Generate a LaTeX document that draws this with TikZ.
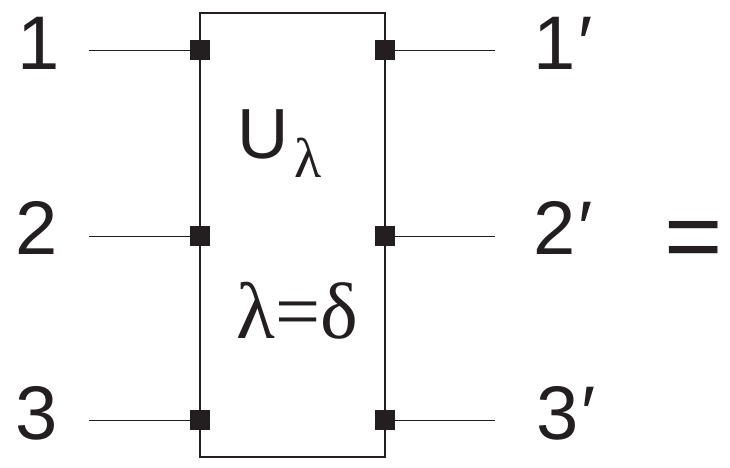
\documentclass[tikz,border=0pt]{standalone}
\usepackage{fontspec}
\setmainfont{Liberation Sans}
\newfontfamily\serifgr{Liberation Serif}
\definecolor{ink}{HTML}{231F20}
\begin{document}
\begin{tikzpicture}[x=1pt,y=-1pt,
  lab/.style={inner sep=0, anchor=base west, text=ink, font=\fontsize{76}{76}\selectfont},
  port/.style={fill=ink, draw=none, minimum size=20.5pt, inner sep=0},
  wire/.style={draw=ink, line width=1pt},
  frame/.style={draw=ink, line width=1.2pt, minimum width=185pt, minimum height=444pt, inner sep=0}]
\useasboundingbox (0,0) rectangle (730,467);
\node[frame] (box) at (292.5,235) {};
% ports
\node[port] (l1) at (200,50) {};
\node[port] (l2) at (200,236) {};
\node[port] (l3) at (200,420) {};
\node[port] (r1) at (385,50) {};
\node[port] (r2) at (385,236) {};
\node[port] (r3) at (385,420) {};
% wire ends
\coordinate (a1) at (89,50);
\coordinate (a2) at (89,236);
\coordinate (a3) at (89,420);
\coordinate (b1) at (495,50);
\coordinate (b2) at (495,236);
\coordinate (b3) at (495,420);
\draw[wire] (a1) -- (l1);
\draw[wire] (a2) -- (l2);
\draw[wire] (a3) -- (l3);
\draw[wire] (r1) -- (b1);
\draw[wire] (r2) -- (b2);
\draw[wire] (r3) -- (b3);
% labels
\node[lab] (t1) at (17,69) {1};
\node[lab] (t2) at (15,254) {2};
\node[lab] (t3) at (15,439) {3};
\node[lab] (u1) at (533,69) {1\kern3pt′};
\node[lab] (u2) at (533,254) {2\kern3pt′};
\node[lab] (u3) at (536,439) {3\kern3pt′};
\node[inner sep=0, anchor=base, text=ink, font=\fontsize{100}{100}\selectfont] (eq) at (694,270) {=};
\node[inner sep=0, anchor=base west, text=ink, font=\fontsize{71}{71}\selectfont] (ul) at (237,158)
  {U\kern6pt\raisebox{-19pt}{\serifgr\fontsize{56}{56}\selectfont λ}};
\node[inner sep=0, anchor=base, text=ink, font=\serifgr\fontsize{80}{80}\selectfont] (ld) at (297.5,338) {λ=δ};
\end{tikzpicture}
\end{document}
